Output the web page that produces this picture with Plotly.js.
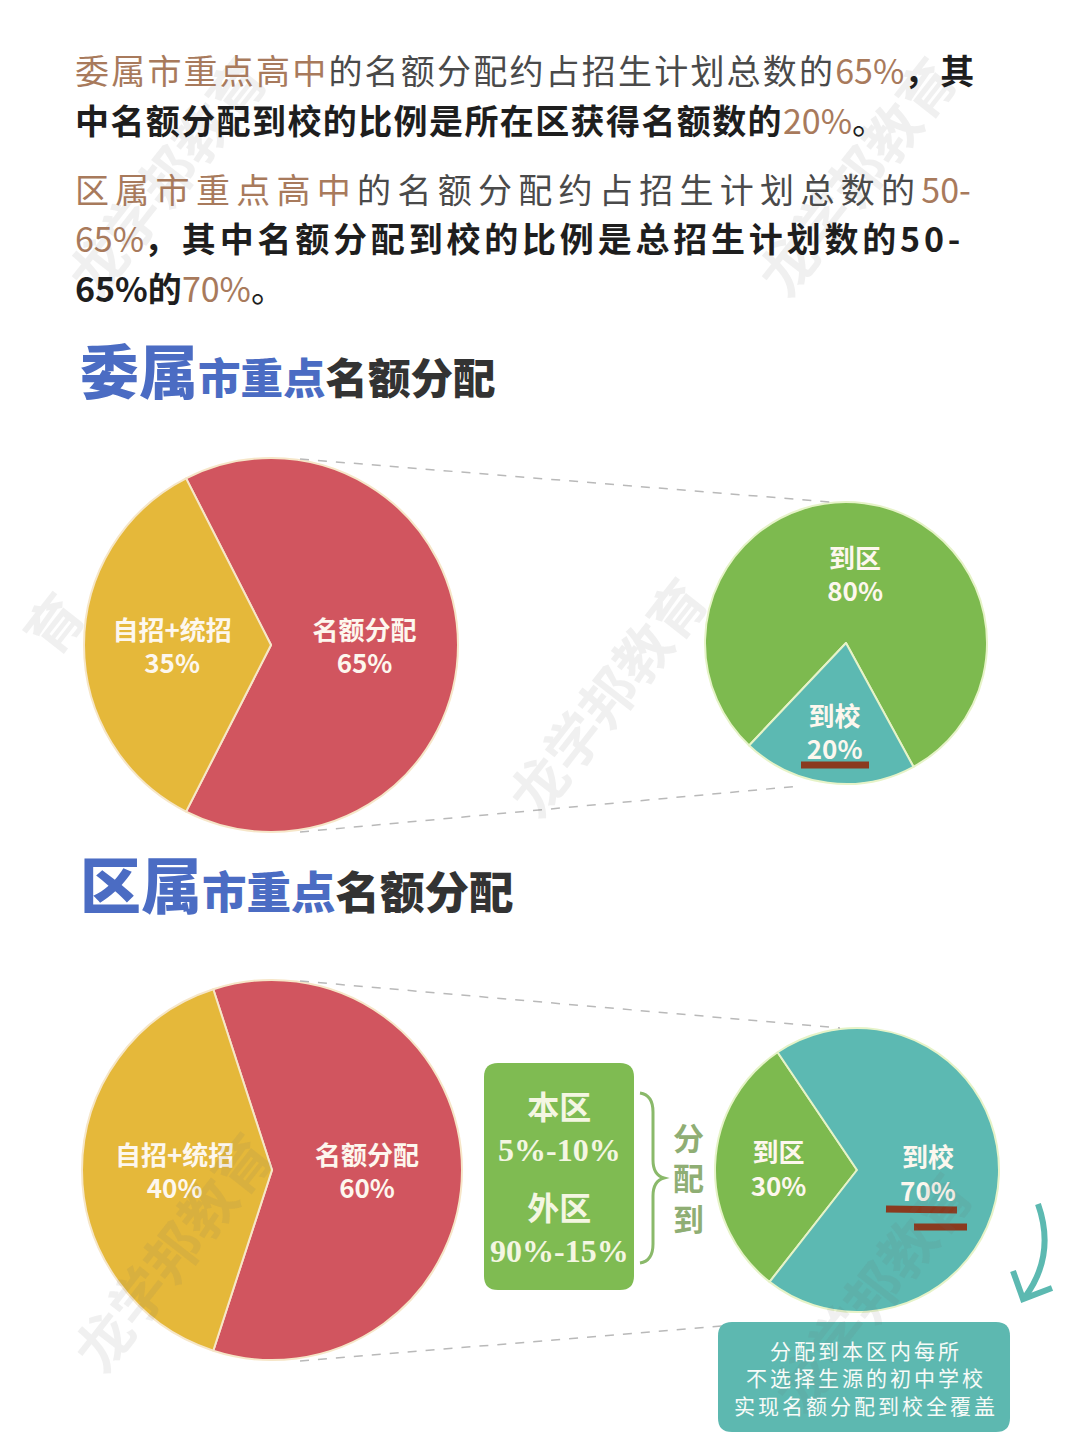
<!DOCTYPE html>
<html>
<head>
<meta charset="utf-8">
<script src="https://cdn.plot.ly/plotly-3.0.1.min.js"></script>
<style>
  html,body{margin:0;padding:0;background:#fff;}
  #chart{width:1080px;height:1445px;}
</style>
</head>
<body>
<div id="chart"></div>
<script>
// ---------- data ----------
const wsLabels = ['名额分配', '自招+统招'];
const wsValues = [65, 35];
const wsSubLabels = ['到区', '到校'];
const wsSubValues = [80, 20];
const qsLabels = ['名额分配', '自招+统招'];
const qsValues = [60, 40];
const qsSubLabels = ['到区', '到校'];
const qsSubValues = [30, 70];
const boxLabels = ['本区', '外区'];
const boxRanges = ['5%-10%', '90%-15%'];
const boxVerb = ['分', '配', '到'];
const noteLines = ['分配到本区内每所', '不选择生源的初中学校', '实现名额分配到校全覆盖'];
const headers = [['委属', '市重点', '名额分配'], ['区属', '市重点', '名额分配']];
const watermark = '龙学邦教育';

// ---------- helpers ----------
const W = 1080, H = 1445;
const X = p => p / W;
const Y = p => 1 - p / H;
const P = (x, y) => X(x).toFixed(5) + ',' + Y(y).toFixed(5);
function dom(cx, cy, r) {
  return {x: [X(cx - r), X(cx + r)], y: [Y(cy + r), Y(cy - r)]};
}
function rr(x0, y0, x1, y1, r) {
  return `M${P(x0 + r, y0)} L${P(x1 - r, y0)} Q${P(x1, y0)} ${P(x1, y0 + r)} L${P(x1, y1 - r)} Q${P(x1, y1)} ${P(x1 - r, y1)} L${P(x0 + r, y1)} Q${P(x0, y1)} ${P(x0, y1 - r)} L${P(x0, y0 + r)} Q${P(x0, y0)} ${P(x0 + r, y0)} Z`;
}
const RED = '#d1555f', YEL = '#e5b83a', GRN = '#7dba4f', TEAL = '#5cb9b2';
const BROWN = '#a87a5c';
const CJK = '"Noto Sans CJK SC", "Noto Sans", sans-serif';
const SERIF = '"Liberation Serif", "Noto Sans CJK SC", serif';

function pieTrace(labels, values, colors, d, rot, lineCol, fsize) {
  return {
    type: 'pie', labels: labels, values: values, sort: false,
    direction: 'clockwise', rotation: rot, domain: d,
    marker: {colors: colors, line: {color: lineCol, width: 2}},
    texttemplate: '<b>%{label}</b><br><b>%{percent:.0%}</b>',
    textposition: 'inside', insidetextorientation: 'horizontal',
    textfont: {family: CJK, size: fsize, color: '#fdf7ee'},
    hoverinfo: 'skip', showlegend: false
  };
}

const data = [
  pieTrace(wsLabels, wsValues, [RED, YEL], dom(271, 645, 187), -27, '#f6e6c8', 26),
  pieTrace(wsSubLabels, wsSubValues, [GRN, TEAL], dom(846, 643, 141), -136.6, '#e6f3c8', 26),
  pieTrace(qsLabels, qsValues, [RED, YEL], dom(272, 1170, 190), -18, '#f6e6c8', 26),
  pieTrace(qsSubLabels, qsSubValues, [GRN, TEAL], dom(857, 1170, 142), 218, '#e6f3c8', 26)
];

// ---------- shapes ----------
const dashed = {color: '#b9b9b9', width: 1.5, dash: 'dash'};
const shapes = [
  {type: 'line', xref: 'paper', yref: 'paper', x0: X(300), y0: Y(459), x1: X(830), y1: Y(502), line: dashed},
  {type: 'line', xref: 'paper', yref: 'paper', x0: X(300), y0: Y(832), x1: X(800), y1: Y(786), line: dashed},
  {type: 'line', xref: 'paper', yref: 'paper', x0: X(300), y0: Y(981), x1: X(840), y1: Y(1028), line: dashed},
  {type: 'line', xref: 'paper', yref: 'paper', x0: X(300), y0: Y(1361), x1: X(722), y1: Y(1326), line: dashed},
  // green box
  {type: 'path', xref: 'paper', yref: 'paper', path: rr(484, 1063, 634, 1290, 14), fillcolor: '#7fbb52', line: {width: 0}},
  // brace
  {type: 'path', xref: 'paper', yref: 'paper',
   path: `M${P(640, 1093)} Q${P(653, 1095)} ${P(653, 1112)} L${P(653, 1160)} Q${P(653, 1175)} ${P(664, 1178)} Q${P(653, 1181)} ${P(653, 1196)} L${P(653, 1244)} Q${P(653, 1261)} ${P(640, 1263)}`,
   line: {color: '#8ab96a', width: 3}},
  // callout box
  {type: 'path', xref: 'paper', yref: 'paper', path: rr(718, 1322, 1010, 1432, 14), fillcolor: '#5db8b0', line: {width: 0}},
  // arrow
  {type: 'path', xref: 'paper', yref: 'paper', path: `M${P(1038, 1204)} Q${P(1056, 1255)} ${P(1025, 1297)}`, line: {color: '#5cb9b1', width: 6}},
  {type: 'path', xref: 'paper', yref: 'paper', path: `M${P(1013, 1271)} L${P(1023, 1299)} L${P(1052, 1288)}`, line: {color: '#5cb9b1', width: 6}},
  // brown underline marks
  {type: 'line', xref: 'paper', yref: 'paper', x0: X(801), y0: Y(765), x1: X(869), y1: Y(765), line: {color: '#8a3a1f', width: 7}},
  {type: 'line', xref: 'paper', yref: 'paper', x0: X(886), y0: Y(1209), x1: X(957), y1: Y(1210), line: {color: '#8a3a1f', width: 7}},
  {type: 'line', xref: 'paper', yref: 'paper', x0: X(914), y0: Y(1227), x1: X(967), y1: Y(1227), line: {color: '#8a3a1f', width: 7}}
];

// ---------- annotations ----------
function ann(x, y, text, opts) {
  return Object.assign({xref: 'paper', yref: 'paper', x: X(x), y: Y(y), text: text, showarrow: false,
    xanchor: 'left', yanchor: 'middle', font: {family: CJK, size: 34, color: '#222'}}, opts || {});
}
const sp = (t, style) => `<span style="${style}">${t}</span>`;
const annotations = [];

// watermarks (faint)
const wmFont = {family: CJK, size: 56, color: 'rgba(110,110,110,0.10)'};
[[165, 175], [855, 175], [605, 695], [170, 1250], [870, 1290]].forEach(p => {
  annotations.push(ann(p[0], p[1], '<b>' + watermark + '</b>', {xanchor: 'center', textangle: -52, font: wmFont}));
});
annotations.push(ann(52, 622, '<b>' + watermark.slice(-1) + '</b>', {xanchor: 'center', textangle: -52, font: wmFont}));

// paragraph
annotations.push(ann(73, 70,
  sp('委属市重点高中', `fill:${BROWN};letter-spacing:2.2px`) +
  sp('的名额分配约占招生计划总数的', 'fill:#4a4a4a;letter-spacing:2.2px') +
  sp('65%', `fill:${BROWN}`) + sp('，其', 'fill:#1e1e1e;font-weight:bold;letter-spacing:2px')));
annotations.push(ann(73, 120,
  sp('中名额分配到校的比例是所在区获得名额数的', 'fill:#1e1e1e;font-weight:bold;letter-spacing:1.4px') +
  sp('20%', `fill:${BROWN}`) + sp('。', 'fill:#1e1e1e')));
annotations.push(ann(73, 188,
  sp('区属市重点高中', `fill:${BROWN};letter-spacing:6.3px`) +
  sp('的名额分配约占招生计划总数的', 'fill:#4a4a4a;letter-spacing:6.3px') +
  sp('50-', `fill:${BROWN}`)));
annotations.push(ann(73, 238,
  sp('65%', `fill:${BROWN}`) +
  sp('，其中名额分配到校的比例是总招生计划数的50-', 'fill:#1e1e1e;font-weight:600;letter-spacing:3.8px')));
annotations.push(ann(73, 288,
  sp('65%的', 'fill:#1e1e1e;font-weight:600') + sp('70%', `fill:${BROWN}`) + sp('。', 'fill:#1e1e1e')));

// section headers
function header(y, parts, big, small) {
  return ann(78, y,
    sp(parts[0], `fill:#4b6cc3;font-size:${big}px;font-weight:900`) +
    sp(parts[1], `fill:#4b6cc3;font-size:${small}px;font-weight:900`) +
    sp(parts[2], `fill:#333333;font-size:${small}px;font-weight:900`),
    {font: {family: CJK, size: small, color: '#333'}});
}
annotations.push(header(368, headers[0], 59, 42.5));
annotations.push(header(882, headers[1], 61, 44.5));

// green box texts
annotations.push(ann(559, 1129, '<b>' + boxLabels[0] + '<br>' + boxRanges[0] + '</b>',
  {xanchor: 'center', font: {family: SERIF, size: 32, color: '#f4f6e2'}}));
annotations.push(ann(559, 1230, '<b>' + boxLabels[1] + '<br>' + boxRanges[1] + '</b>',
  {xanchor: 'center', font: {family: SERIF, size: 32, color: '#f4f6e2'}}));
annotations.push(ann(688, 1180, '<b>' + boxVerb.join('<br>') + '</b>',
  {xanchor: 'center', font: {family: SERIF, size: 31, color: '#8fae74'}}));

// callout text
annotations.push(ann(866, 1377, noteLines.map(t => sp(t, 'letter-spacing:3px')).join('<br>'),
  {xanchor: 'center', font: {family: CJK, size: 21, color: '#f7fbf8'}}));

const layout = {
  width: W, height: H,
  margin: {l: 0, r: 0, t: 0, b: 0},
  paper_bgcolor: '#ffffff', plot_bgcolor: '#ffffff',
  showlegend: false,
  shapes: shapes,
  annotations: annotations
};

Plotly.newPlot('chart', data, layout, {displayModeBar: false, staticPlot: true});
</script>
</body>
</html>
